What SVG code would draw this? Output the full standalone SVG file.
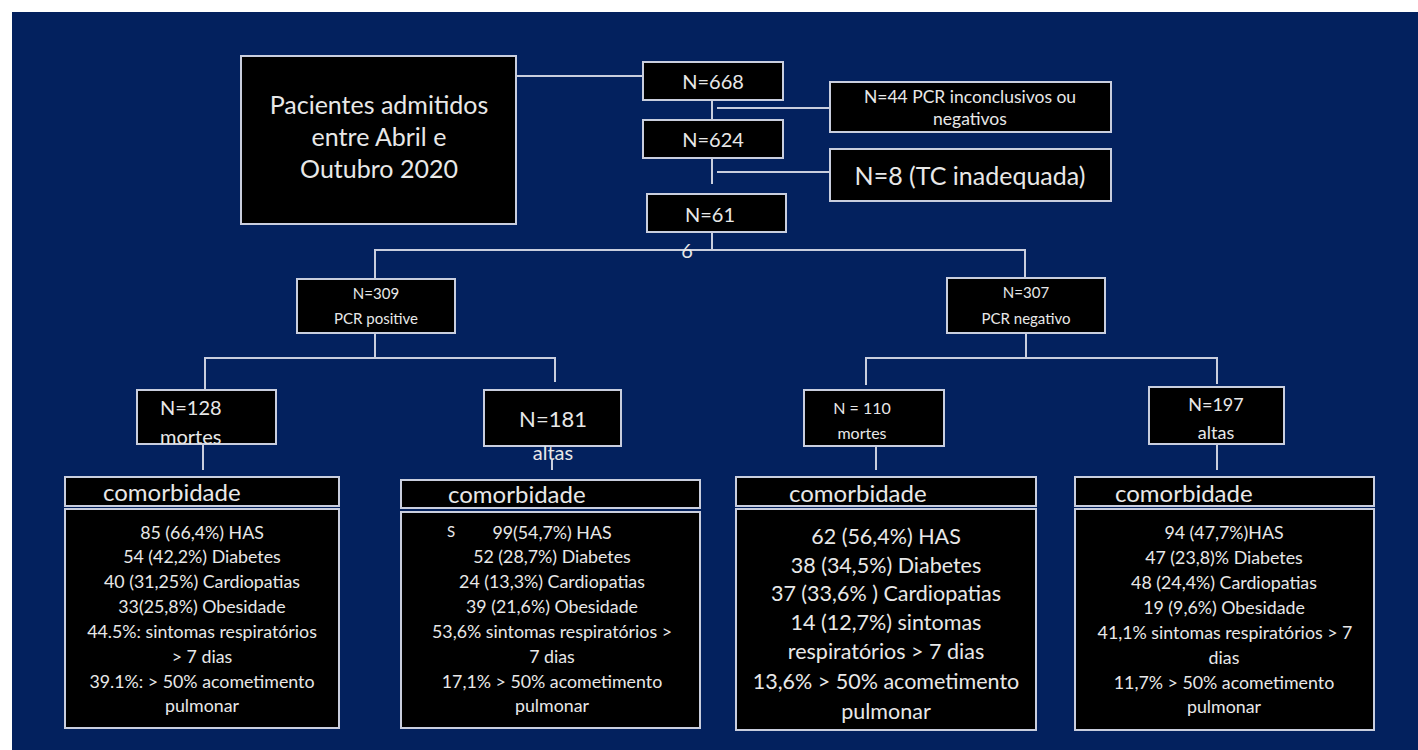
<svg xmlns="http://www.w3.org/2000/svg" width="1418" height="750" viewBox="0 0 1418 750">
<style>
.bx{fill:#000;stroke:#c9cede;stroke-width:2}
.t{font-family:Lato,"Open Sans","Liberation Sans",sans-serif;fill:#e8e8e8;text-anchor:middle}
.l{text-anchor:start}
.c{stroke:#c9cede;stroke-width:2;fill:none}
.hd{font-size:24px}
.b{font-size:17.8px}
</style>
<rect width="1418" height="750" fill="#fff"/>
<rect x="12" y="12" width="1406" height="738" fill="#03215e"/>
<g id="connectors">
<path class="c" d="M516 76H643"/>
<path class="c" d="M712 100V120M717 108H830"/>
<path class="c" d="M712 158V184M717 172H830"/>
<path class="c" d="M712 228V250M375 279V250H1025V279"/>
<path class="c" d="M375 333V358M205 390V358H555V382"/>
<path class="c" d="M1026 333V358M866 385V358H1217V384"/>
<path class="c" d="M203 444V470M552 460V470M876 446V470M1217 444V470"/>
</g>
<g id="pacientes"><rect class="bx" x="241" y="56" width="275" height="168"/>
<text class="t" font-size="25"><tspan x="379" y="114">Pacientes admitidos</tspan><tspan x="379" y="146">entre Abril e</tspan><tspan x="379" y="178">Outubro 2020</tspan></text></g>
<g id="n668"><rect class="bx" x="643" y="62" width="140" height="38"/><text class="t" x="713" y="89" font-size="20">N=668</text></g>
<g id="n44"><rect class="bx" x="830" y="82" width="281" height="50"/><text class="t" font-size="17.5"><tspan x="970" y="103">N=44 PCR inconclusivos ou</tspan><tspan x="970" y="125">negativos</tspan></text></g>
<g id="n624"><rect class="bx" x="643" y="120" width="140" height="38"/><text class="t" x="713" y="147" font-size="20">N=624</text></g>
<g id="n8"><rect class="bx" x="830" y="149" width="281" height="52"/><text class="t" x="970" y="185" font-size="25">N=8 (TC inadequada)</text></g>
<g id="n616"><rect class="bx" x="647" y="194" width="139" height="38"/><text class="t" font-size="20"><tspan x="710" y="222">N=61</tspan><tspan x="687" y="258">6</tspan></text></g>
<g id="n309"><rect class="bx" x="297" y="279" width="158" height="54"/><text class="t" font-size="15"><tspan x="376" y="299">N=309</tspan><tspan x="376" y="324">PCR positive</tspan></text></g>
<g id="n307"><rect class="bx" x="947" y="278" width="158" height="55"/><text class="t" font-size="15"><tspan x="1026" y="298">N=307</tspan><tspan x="1026" y="324">PCR negativo</tspan></text></g>
<g id="n128"><rect class="bx" x="137" y="390" width="139" height="54"/><text class="t l" font-size="20"><tspan x="160" y="415">N=128</tspan><tspan x="160" y="444">mortes</tspan></text></g>
<g id="n181"><rect class="bx" x="484" y="390" width="137" height="56"/><text class="t" font-size="22"><tspan x="553" y="427">N=181</tspan></text><text class="t" x="553" y="460" font-size="20">altas</text></g>
<g id="n110"><rect class="bx" x="804" y="390" width="140" height="56"/><text class="t" font-size="16"><tspan x="862" y="414">N = 110</tspan><tspan x="862" y="439">mortes</tspan></text></g>
<g id="n197"><rect class="bx" x="1149" y="387" width="135" height="57"/><text class="t" font-size="18"><tspan x="1216" y="411">N=197</tspan><tspan x="1216" y="439">altas</tspan></text></g>
<g id="com1"><rect class="bx" x="65" y="477" width="274" height="29"/><text class="t l hd" x="103" y="501">comorbidade</text>
<rect class="bx" x="65" y="509" width="274" height="219"/>
<text class="t b"><tspan x="202" y="539">85 (66,4%) HAS</tspan><tspan x="202" y="563">54 (42,2%) Diabetes</tspan><tspan x="202" y="588">40 (31,25%) Cardiopatias</tspan><tspan x="202" y="613">33(25,8%) Obesidade</tspan><tspan x="202" y="638">44.5%: sintomas respiratórios</tspan><tspan x="202" y="663">&gt; 7 dias</tspan><tspan x="202" y="688">39.1%: &gt; 50% acometimento</tspan><tspan x="202" y="712">pulmonar</tspan></text></g>
<g id="com2"><rect class="bx" x="401" y="480" width="299" height="28"/><text class="t l hd" x="448" y="503">comorbidade</text>
<rect class="bx" x="401" y="512" width="299" height="216"/>
<text class="t l" x="447" y="537" font-size="15">S</text>
<text class="t b"><tspan x="552" y="539">99(54,7%) HAS</tspan><tspan x="552" y="563">52 (28,7%) Diabetes</tspan><tspan x="552" y="588">24 (13,3%) Cardiopatias</tspan><tspan x="552" y="613">39 (21,6%) Obesidade</tspan><tspan x="552" y="638">53,6% sintomas respiratórios &gt;</tspan><tspan x="552" y="663">7 dias</tspan><tspan x="552" y="688">17,1% &gt; 50% acometimento</tspan><tspan x="552" y="712">pulmonar</tspan></text></g>
<g id="com3"><rect class="bx" x="736" y="477" width="300" height="29"/><text class="t l hd" x="789" y="502">comorbidade</text>
<rect class="bx" x="736" y="509" width="300" height="221"/>
<text class="t" font-size="21.5"><tspan x="886" y="544">62 (56,4%) HAS</tspan><tspan x="886" y="573">38 (34,5%) Diabetes</tspan><tspan x="886" y="601">37 (33,6% ) Cardiopatias</tspan><tspan x="886" y="630">14 (12,7%) sintomas</tspan><tspan x="886" y="659">respiratórios &gt; 7 dias</tspan><tspan x="886" y="689">13,6% &gt; 50% acometimento</tspan><tspan x="886" y="719">pulmonar</tspan></text></g>
<g id="com4"><rect class="bx" x="1075" y="477" width="299" height="29"/><text class="t l hd" x="1115" y="502">comorbidade</text>
<rect class="bx" x="1075" y="509" width="299" height="221"/>
<text class="t b"><tspan x="1224" y="539">94 (47,7%)HAS</tspan><tspan x="1224" y="564">47 (23,8)% Diabetes</tspan><tspan x="1224" y="589">48 (24,4%) Cardiopatias</tspan><tspan x="1224" y="614">19 (9,6%) Obesidade</tspan><tspan x="1225" y="639">41,1% sintomas respiratórios &gt; 7</tspan><tspan x="1224" y="664">dias</tspan><tspan x="1224" y="689">11,7% &gt; 50% acometimento</tspan><tspan x="1224" y="713">pulmonar</tspan></text></g>
</svg>
